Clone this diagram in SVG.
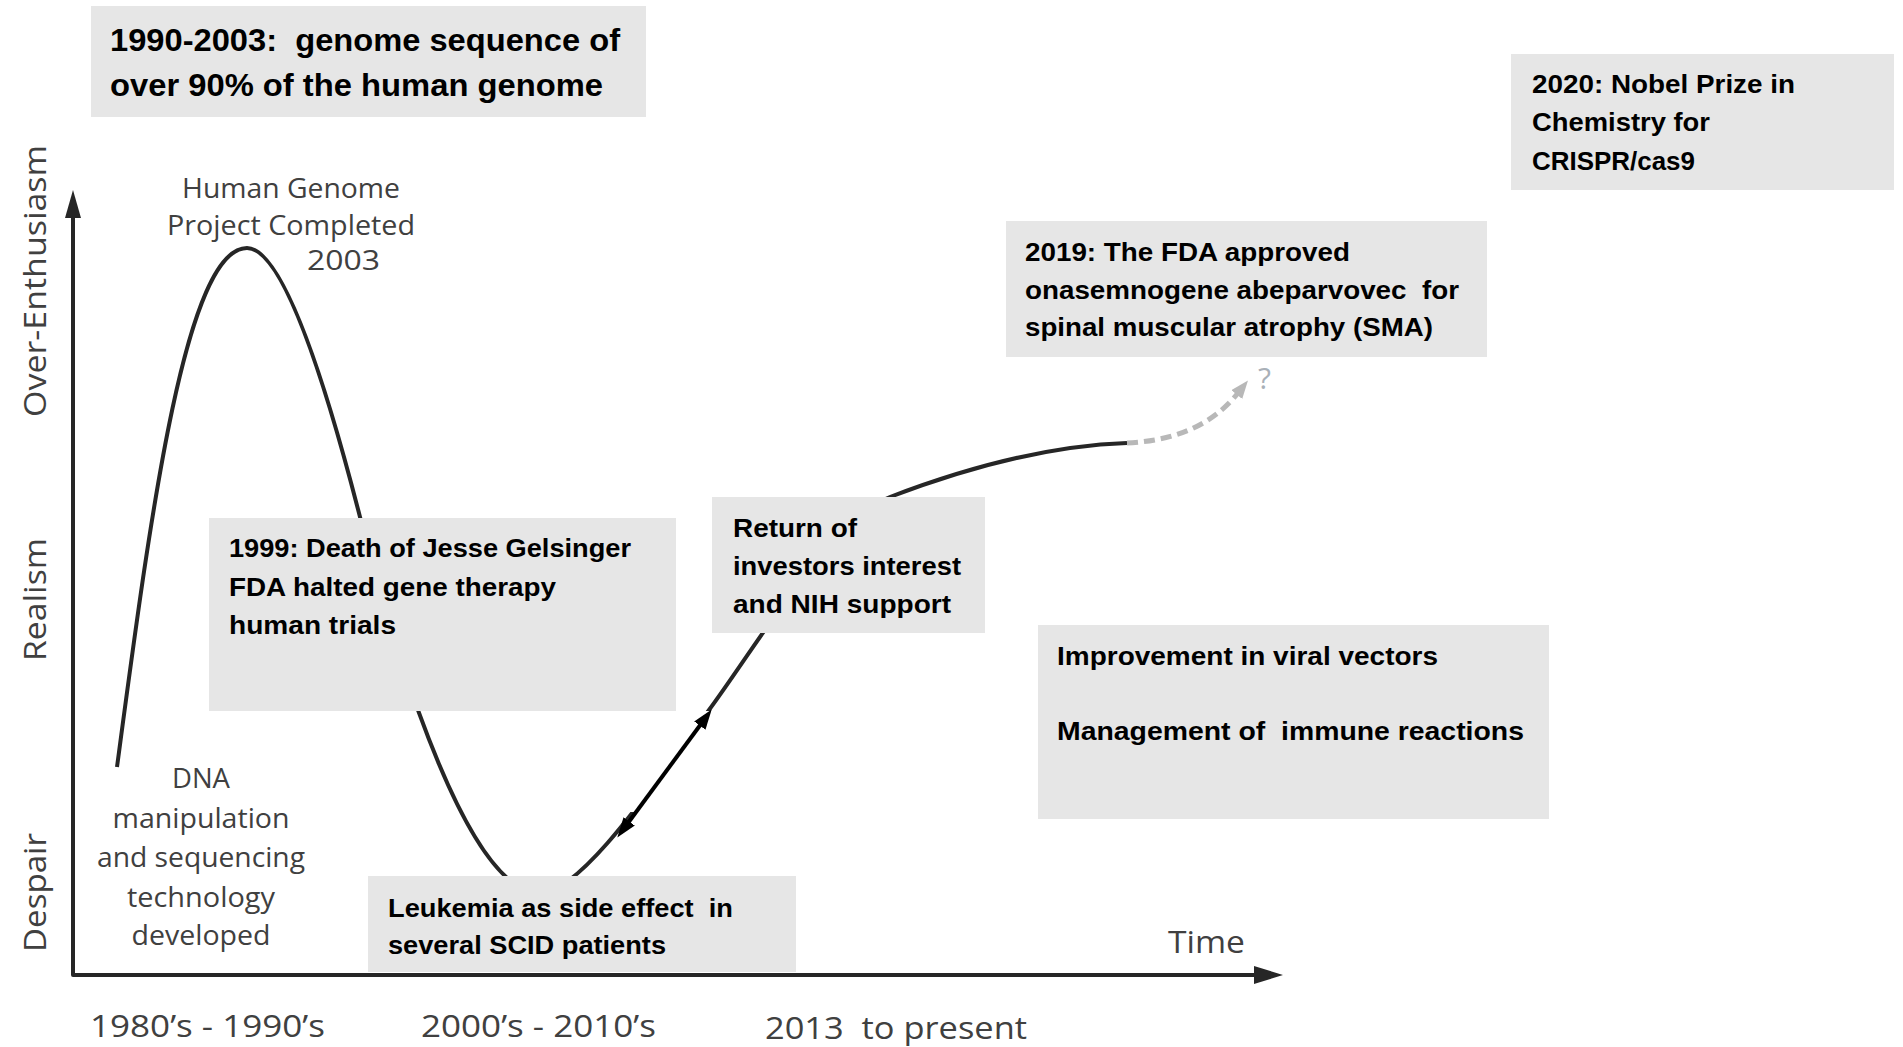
<svg xmlns="http://www.w3.org/2000/svg" width="1903" height="1047" viewBox="0 0 1903 1047" xml:space="preserve">
<defs>
<style>
text{white-space:pre}
.box{fill:#e6e6e6}
.bt{font-family:"Liberation Sans",Arial,sans-serif;font-weight:bold;fill:#000;font-size:26px}
.big{font-size:32px}
.lbl{font-family:"Open Sans","Liberation Sans",sans-serif;fill:#404040;font-size:28px}
.ax{font-family:"Open Sans","Liberation Sans",sans-serif;fill:#404040;font-size:31px}
.axis{stroke:#262626;stroke-width:4;fill:none;stroke-linejoin:round}
.curve{stroke:#262626;stroke-width:4;fill:none}
</style>
<marker id="ah" markerUnits="userSpaceOnUse" markerWidth="20" markerHeight="16" refX="2" refY="8" orient="auto-start-reverse" viewBox="0 0 20 16"><path d="M0,1 L20,8 L0,15 z" fill="#000"/></marker>
<marker id="ahg" markerUnits="userSpaceOnUse" markerWidth="18" markerHeight="14" refX="2" refY="7" orient="auto" viewBox="0 0 18 14"><path d="M0,0 L18,7 L0,14 z" fill="#b8b8b8"/></marker>
</defs>
<rect width="1903" height="1047" fill="#fff"/>

<g id="connectors">
<path class="curve" d="M117,767 C150,520 185,248 247,248 C285,248 330,400 360,517 C400,673 470,893 540,893 C580,893 650,790 709,710 C760,641 830,520 890,497 C950,474 1040,446 1127,443"/>
<rect x="600" y="711" width="438" height="101" fill="#fff"/>
<path d="M1127,443 C1170,441 1210,428 1238,393" fill="none" stroke="#b8b8b8" stroke-width="5" stroke-dasharray="11,6" marker-end="url(#ahg)"/>
<line x1="628" y1="823" x2="701" y2="724" stroke="#000" stroke-width="4" marker-start="url(#ah)" marker-end="url(#ah)"/>
</g>

<g id="axes">
<path class="axis" d="M73,214 L73,975 L1258,975"/>
<polygon points="73,190 65,218 81,218" fill="#262626"/>
<polygon points="1283,975 1254,966 1254,984" fill="#262626"/>
<text class="ax" transform="translate(46,417) rotate(-90)" textLength="272" lengthAdjust="spacingAndGlyphs">Over-Enthusiasm</text>
<text class="ax" transform="translate(46,661) rotate(-90)" textLength="123" lengthAdjust="spacingAndGlyphs">Realism</text>
<text class="ax" transform="translate(46,952) rotate(-90)" textLength="119" lengthAdjust="spacingAndGlyphs">Despair</text>
<text class="ax" x="1168" y="953" textLength="77" lengthAdjust="spacingAndGlyphs">Time</text>
<text class="ax" x="90" y="1037" textLength="235" lengthAdjust="spacingAndGlyphs">1980’s - 1990’s</text>
<text class="ax" x="421" y="1037" textLength="235" lengthAdjust="spacingAndGlyphs">2000’s - 2010’s</text>
<text class="ax" x="765" y="1039" textLength="262" lengthAdjust="spacingAndGlyphs">2013  to present</text>
</g>

<g id="hgp-label">
<text class="lbl" x="182" y="198" textLength="218" lengthAdjust="spacingAndGlyphs">Human Genome</text>
<text class="lbl" x="167" y="235" textLength="248" lengthAdjust="spacingAndGlyphs">Project Completed</text>
<text class="lbl" x="307" y="270" fill="#333" textLength="73" lengthAdjust="spacingAndGlyphs">2003</text>
</g>

<g id="dna-label">
<text class="lbl" x="201" y="788" text-anchor="middle" textLength="58" lengthAdjust="spacingAndGlyphs">DNA</text>
<text class="lbl" x="201" y="828" text-anchor="middle" textLength="177" lengthAdjust="spacingAndGlyphs">manipulation</text>
<text class="lbl" x="201" y="867" text-anchor="middle" textLength="208" lengthAdjust="spacingAndGlyphs">and sequencing</text>
<text class="lbl" x="201" y="907" text-anchor="middle" textLength="148" lengthAdjust="spacingAndGlyphs">technology</text>
<text class="lbl" x="201" y="945" text-anchor="middle" textLength="139" lengthAdjust="spacingAndGlyphs">developed</text>
</g>

<g id="genome-box">
<rect class="box" x="91" y="6" width="555" height="111"/>
<text class="bt big" x="110" y="51" textLength="510" lengthAdjust="spacingAndGlyphs">1990-2003:  genome sequence of</text>
<text class="bt big" x="110" y="96" textLength="493" lengthAdjust="spacingAndGlyphs">over 90% of the human genome</text>
</g>

<g id="nobel-box">
<rect class="box" x="1511" y="54" width="383" height="136"/>
<text class="bt" x="1532" y="93" textLength="263" lengthAdjust="spacingAndGlyphs">2020: Nobel Prize in</text>
<text class="bt" x="1532" y="131" textLength="178" lengthAdjust="spacingAndGlyphs">Chemistry for</text>
<text class="bt" x="1532" y="170" textLength="163" lengthAdjust="spacingAndGlyphs">CRISPR/cas9</text>
</g>

<g id="fda-box">
<rect class="box" x="1006" y="221" width="481" height="136"/>
<text class="bt" x="1025" y="261" textLength="325" lengthAdjust="spacingAndGlyphs">2019: The FDA approved</text>
<text class="bt" x="1025" y="299" textLength="434" lengthAdjust="spacingAndGlyphs">onasemnogene abeparvovec  for</text>
<text class="bt" x="1025" y="336" textLength="408" lengthAdjust="spacingAndGlyphs">spinal muscular atrophy (SMA)</text>
<text x="1258" y="389" font-family="Open Sans, Liberation Sans, sans-serif" font-size="30" fill="#a9b0b8">?</text>
</g>

<g id="death-box">
<rect class="box" x="209" y="518" width="467" height="193"/>
<text class="bt" x="229" y="557" textLength="402" lengthAdjust="spacingAndGlyphs">1999: Death of Jesse Gelsinger</text>
<text class="bt" x="229" y="596" textLength="327" lengthAdjust="spacingAndGlyphs">FDA halted gene therapy</text>
<text class="bt" x="229" y="634" textLength="167" lengthAdjust="spacingAndGlyphs">human trials</text>
</g>

<g id="return-box">
<rect class="box" x="712" y="497" width="273" height="136"/>
<text class="bt" x="733" y="537" textLength="124" lengthAdjust="spacingAndGlyphs">Return of</text>
<text class="bt" x="733" y="575" textLength="228" lengthAdjust="spacingAndGlyphs">investors interest</text>
<text class="bt" x="733" y="613" textLength="218" lengthAdjust="spacingAndGlyphs">and NIH support</text>
</g>

<g id="improvement-box">
<rect class="box" x="1038" y="625" width="511" height="194"/>
<text class="bt" x="1057" y="665" textLength="381" lengthAdjust="spacingAndGlyphs">Improvement in viral vectors</text>
<text class="bt" x="1057" y="740" textLength="467" lengthAdjust="spacingAndGlyphs">Management of  immune reactions</text>
</g>

<g id="leukemia-box">
<rect class="box" x="368" y="876" width="428" height="96"/>
<text class="bt" x="388" y="917" textLength="345" lengthAdjust="spacingAndGlyphs">Leukemia as side effect  in</text>
<text class="bt" x="388" y="954" textLength="278" lengthAdjust="spacingAndGlyphs">several SCID patients</text>
</g>
</svg>
